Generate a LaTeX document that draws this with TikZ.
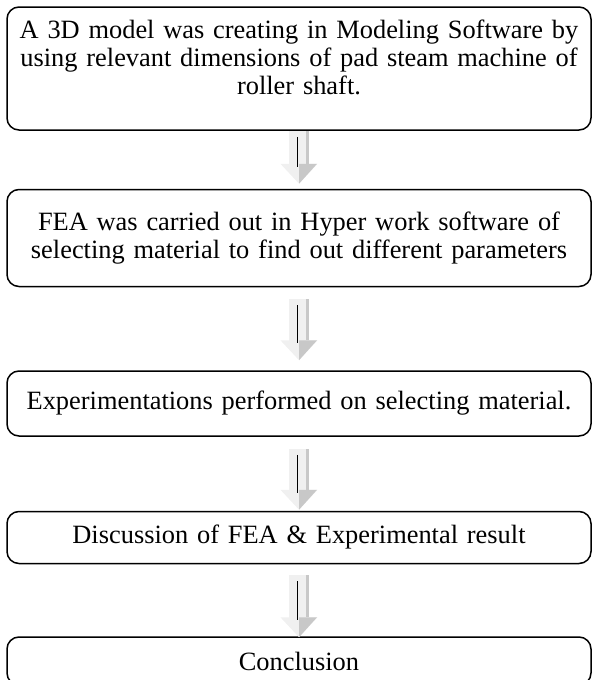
\documentclass[tikz,border=0pt]{standalone}
\usepackage{fontspec}
\setmainfont{Liberation Serif}
\usetikzlibrary{arrows.meta,positioning}
\definecolor{arrowlight}{HTML}{F0F0F0}
\definecolor{arrowdark}{HTML}{C8C8C8}
\tikzset{
  flowbox/.style={
    rectangle, rounded corners=12pt, draw=black, line width=1.5pt,
    fill=white, text width=560pt, inner xsep=12pt, align=center,
    font=\fontsize{26.4pt}{28pt}\selectfont
  },
  fatarrow/.style={-{Triangle[width=36pt,length=20pt]}, line width=20pt, draw=arrowlight},
  arrowshade/.style={fill=arrowdark},
  arrowcore/.style={line width=1.3pt, draw=black},
}

\begin{document}
\begin{tikzpicture}[x=1pt,y=1pt]
  \useasboundingbox (0,0) rectangle (593,-680);
  \node[flowbox, minimum height=123pt] (model) at (299,-68.5) {A 3D model was creating in Modeling Software by\\ using relevant dimensions of pad steam machine of\\ roller shaft.\\[-6pt]\mbox{}};
  \node[flowbox, minimum height=97pt, below=58pt of model] (fea) {FEA was carried out in Hyper work software of\\ selecting material to find out different parameters};
  \node[flowbox, minimum height=65pt, below=83pt of fea] (expt) {Experimentations performed on selecting material.};
  \node[flowbox, minimum height=52pt, below=74pt of expt] (disc) {Discussion of FEA \& Experimental result};
  \node[flowbox, minimum height=48pt, below=72pt of disc] (concl) {Conclusion};
  % block arrows between the steps
  \foreach \a/\b/\s/\e in {model/fea/0/5,fea/expt/12/10,expt/disc/12/1,disc/concl/11/-1} {
    \coordinate (\a-top) at ([yshift=-\s pt]\a.south);
    \coordinate (\a-tip) at ([yshift=\e pt]\b.north);
    \draw[fatarrow] (\a-top) -- (\a-tip);
    \fill[arrowshade] ([xshift=6.5pt]\a-top) rectangle ([xshift=10pt,yshift=20pt]\a-tip);
    \fill[arrowshade] (\a-tip) -- ++(18pt,20pt) -- ++(-18pt,0pt) -- cycle;
    \draw[arrowcore] ([xshift=-1.5pt,yshift=-6pt]\a-top) -- ([xshift=-1.5pt,yshift=17pt]\a-tip);
  }
\end{tikzpicture}
\end{document}
